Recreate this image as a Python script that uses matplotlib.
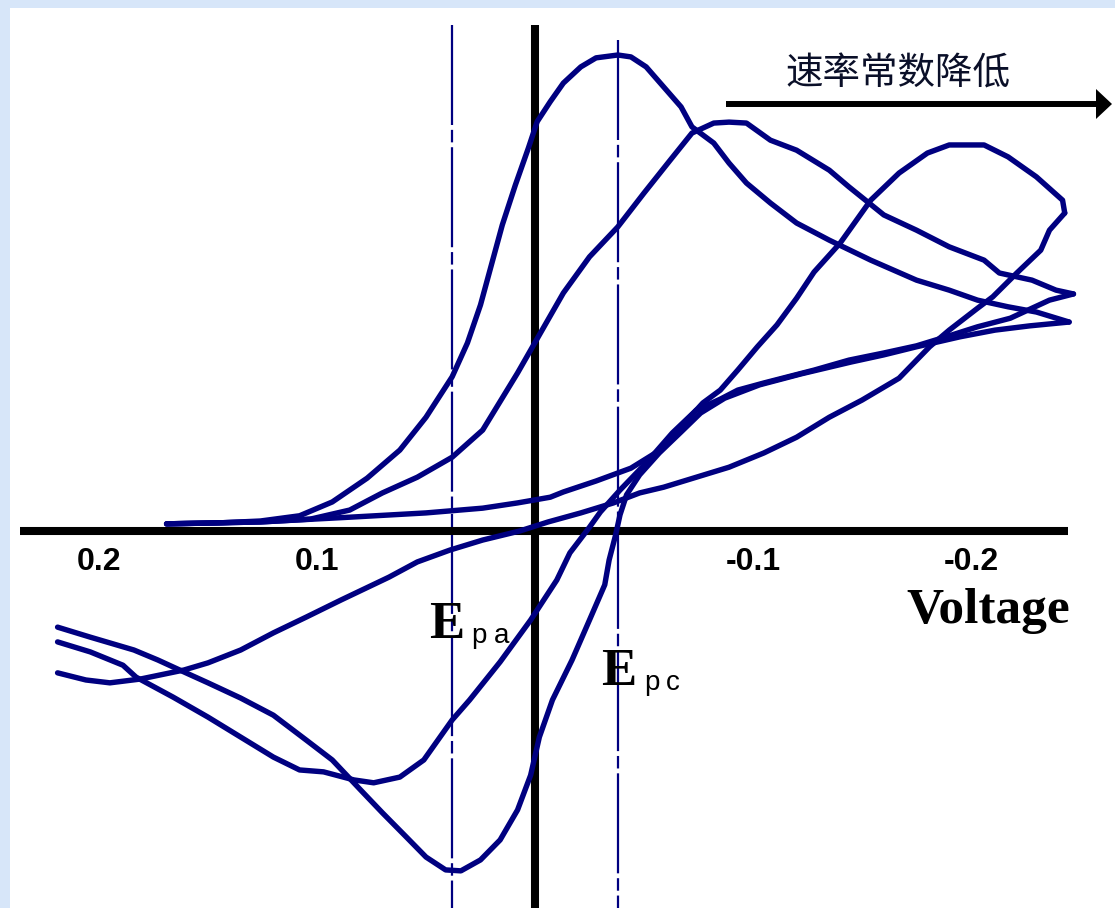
import matplotlib
matplotlib.use("Agg")
import matplotlib.pyplot as plt
from matplotlib.patches import Rectangle, Polygon
from matplotlib.lines import Line2D

plt.rcParams['font.family'] = ['Noto Sans CJK SC', 'DejaVu Sans']
plt.rcParams['lines.scale_dashes'] = False

# --- cyclic voltammograms for three rate constants (V, current a.u.) ---
# fast electron transfer
fwd_a_v = [0.169, 0.145, 0.126, 0.108, 0.093, 0.077, 0.062, 0.050, 0.038, 0.031, 0.025, 0.020,
           0.015, 0.009, 0.003, -0.001, -0.007, -0.013, -0.021, -0.028, -0.038, -0.044, -0.051,
           -0.059, -0.067, -0.072, -0.082, -0.089, -0.097, -0.108, -0.120, -0.135, -0.154,
           -0.175, -0.190, -0.203, -0.217, -0.230, -0.245]
fwd_a_i = [0.15, 0.17, 0.21, 0.32, 0.61, 1.11, 1.70, 2.39, 3.24, 3.95, 4.75, 5.59,
           6.43, 7.27, 8.05, 8.60, 9.02, 9.41, 9.75, 9.94, 10.0, 9.96, 9.75,
           9.33, 8.91, 8.49, 8.15, 7.73, 7.31, 6.89, 6.47, 6.11, 5.69,
           5.27, 5.06, 4.85, 4.71, 4.60, 4.39]
rev_a_v = [-0.245, -0.227, -0.211, -0.195, -0.175, -0.160, -0.145, -0.122, -0.103, -0.087,
           -0.076, -0.067, -0.057, -0.048, -0.042, -0.039, -0.037, -0.034, -0.032, -0.025,
           -0.017, -0.008, -0.002, 0.002, 0.008, 0.016, 0.025, 0.034, 0.041, 0.050, 0.059,
           0.070, 0.080, 0.093, 0.105, 0.120, 0.135, 0.150, 0.163, 0.173, 0.184, 0.204, 0.219]
rev_a_i = [4.39, 4.31, 4.22, 4.08, 3.87, 3.70, 3.55, 3.30, 3.07, 2.79,
           2.48, 2.08, 1.64, 1.18, 0.76, 0.34, -0.08, -0.61, -1.13, -1.87,
           -2.71, -3.55, -4.33, -5.13, -5.86, -6.49, -6.91, -7.14, -7.12, -6.85, -6.43,
           -5.92, -5.44, -4.81, -4.39, -3.87, -3.51, -3.19, -2.92, -2.71, -2.50, -2.23, -2.02]

# intermediate
fwd_b_v = [0.169, 0.126, 0.103, 0.085, 0.070, 0.054, 0.038, 0.024, 0.008, -0.002, -0.013,
           -0.025, -0.038, -0.050, -0.062, -0.072, -0.082, -0.089, -0.097, -0.108, -0.120,
           -0.135, -0.144, -0.160, -0.175, -0.190, -0.206, -0.213, -0.228, -0.239, -0.247]
fwd_b_i = [0.15, 0.19, 0.25, 0.44, 0.80, 1.13, 1.55, 2.12, 3.32, 4.12, 5.00,
           5.76, 6.39, 7.10, 7.79, 8.36, 8.57, 8.59, 8.57, 8.21, 8.00,
           7.58, 7.23, 6.64, 6.32, 5.97, 5.69, 5.42, 5.27, 5.06, 4.98]
rev_b_v = [-0.247, -0.236, -0.218, -0.203, -0.190, -0.175, -0.160, -0.144, -0.128, -0.105,
           -0.093, -0.085, -0.074, -0.063, -0.051, -0.039, -0.030, -0.025, -0.016, -0.010,
           0.002, 0.016, 0.030, 0.038, 0.051, 0.062, 0.074, 0.083, 0.097, 0.108, 0.120,
           0.135, 0.150, 0.166, 0.183, 0.189, 0.204, 0.219]
rev_b_i = [4.98, 4.85, 4.47, 4.29, 4.10, 3.89, 3.74, 3.59, 3.38, 3.11,
           2.96, 2.77, 2.54, 2.06, 1.43, 0.86, 0.40, 0.08, -0.46, -1.03,
           -1.87, -2.75, -3.55, -3.97, -4.81, -5.17, -5.29, -5.23, -5.06, -5.02, -4.75,
           -4.33, -3.91, -3.49, -3.07, -2.82, -2.54, -2.33]

# slow electron transfer
fwd_c_v = [0.169, 0.126, 0.085, 0.050, 0.024, 0.008, -0.007, -0.013, -0.028, -0.044, -0.056,
           -0.064, -0.071, -0.077, -0.085, -0.093, -0.102, -0.111, -0.120, -0.128, -0.140,
           -0.154, -0.167, -0.180, -0.190, -0.206, -0.217, -0.230, -0.242, -0.243]
fwd_c_i = [0.15, 0.19, 0.29, 0.38, 0.48, 0.59, 0.71, 0.82, 1.05, 1.32, 1.66,
           2.02, 2.39, 2.69, 2.96, 3.38, 3.87, 4.33, 4.89, 5.44, 6.05,
           6.95, 7.52, 7.94, 8.11, 8.11, 7.86, 7.44, 6.95, 6.68]
rev_c_v = [-0.243, -0.236, -0.232, -0.221, -0.210, -0.203, -0.190, -0.181, -0.167, -0.150,
           -0.135, -0.120, -0.105, -0.089, -0.074, -0.059, -0.048, -0.036, -0.021, -0.006,
           0.007, 0.024, 0.039, 0.054, 0.067, 0.089, 0.105, 0.120, 0.135, 0.150, 0.161,
           0.181, 0.195, 0.206, 0.219]
rev_c_i = [6.68, 6.32, 5.90, 5.42, 4.92, 4.68, 4.22, 3.87, 3.21, 2.75,
           2.39, 1.97, 1.64, 1.34, 1.13, 0.92, 0.80, 0.59, 0.38, 0.19,
           0.0, -0.19, -0.40, -0.65, -0.97, -1.45, -1.81, -2.14, -2.50, -2.77, -2.92,
           -3.11, -3.19, -3.13, -2.98]

epa = 0.038
epc = -0.038
tick_vals = [0.2, 0.1, -0.1, -0.2]
tick_text = ["0.2", "0.1", "-0.1", "-0.2"]

W, H = 1115, 908
fig = plt.figure(figsize=(W / 100, H / 100), dpi=100, facecolor='#d7e6f9')
fig.add_artist(Rectangle((10 / W, 0), 1 - 10 / W, 1 - 8 / H, transform=fig.transFigure,
                         facecolor='white', edgecolor='none', zorder=0))
ax = fig.add_axes([0, 0, 1, 1])
ax.set_facecolor('none')
ax.axis('off')

# 2180 px per volt, 47.6 px per current unit, origin at (535, 531)
ax.set_xlim(535 / 2180, (535 - W) / 2180)
ax.set_ylim((531 - H) / 47.6, 531 / 47.6)

navy = '#000080'
# peak potential markers
ax.plot([epa, epa], [(531 - 25) / 47.6, (531 - H) / 47.6], color=navy, lw=1.6,
        dashes=(72, 3.5, 9, 3.5), zorder=2)
ax.plot([epc, epc], [(531 - 40) / 47.6, (531 - H) / 47.6], color=navy, lw=1.6,
        dashes=(72, 3.5, 9, 3.5), zorder=2)

# axes
ax.plot([(535 - 20) / 2180, (535 - 1068) / 2180], [0, 0], color='black', lw=5.8,
        solid_capstyle='butt', zorder=3)
ax.plot([0, 0], [(531 - 25) / 47.6, (531 - H) / 47.6], color='black', lw=5.8,
        solid_capstyle='butt', zorder=3)

for v, i in [(fwd_a_v, fwd_a_i), (rev_a_v, rev_a_i), (fwd_b_v, fwd_b_i),
             (rev_b_v, rev_b_i), (fwd_c_v, fwd_c_i), (rev_c_v, rev_c_i)]:
    ax.plot(v, i, color=navy, lw=3.9, solid_joinstyle='round', solid_capstyle='round',
            zorder=4)

for v, t in zip(tick_vals, tick_text):
    ax.text(v, -0.65, t, ha='center', va='center', fontsize=23, fontweight='bold',
            family='Liberation Sans', color='black')

# labels placed in figure pixels
def fx(x):
    return x / W

def fy(y):
    return 1 - y / H

fig.text(fx(988), fy(623), "Voltage", ha='center', va='baseline', fontsize=37,
         fontweight='bold', family='Liberation Serif')

fig.text(fx(429), fy(638), "E", ha='left', va='baseline', fontsize=38,
         fontweight='bold', family='Liberation Serif')
fig.text(fx(471), fy(643), "p", ha='left', va='baseline', fontsize=20, family='Liberation Sans')
fig.text(fx(494), fy(643), "a", ha='left', va='baseline', fontsize=20, family='Liberation Sans')

fig.text(fx(601), fy(685), "E", ha='left', va='baseline', fontsize=38,
         fontweight='bold', family='Liberation Serif')
fig.text(fx(644), fy(690), "p", ha='left', va='baseline', fontsize=20, family='Liberation Sans')
fig.text(fx(666), fy(690), "c", ha='left', va='baseline', fontsize=20, family='Liberation Sans')

fig.text(fx(785), fy(74), "速率常数降低", ha='left', va='center', fontsize=27,
         color='#0a0f28', family=['Noto Sans CJK SC', 'DejaVu Sans'])

# arrow: shaft plus filled head
fig.add_artist(Line2D([fx(726), fx(1098)], [fy(104), fy(104)], transform=fig.transFigure,
                      color='black', lw=4.3, solid_capstyle='butt'))
fig.add_artist(Polygon([(fx(1096), fy(89)), (fx(1112), fy(104)), (fx(1096), fy(119))],
                       closed=True, transform=fig.transFigure, facecolor='black',
                       edgecolor='none'))

fig.savefig('out.png', dpi=100, facecolor=fig.get_facecolor())
